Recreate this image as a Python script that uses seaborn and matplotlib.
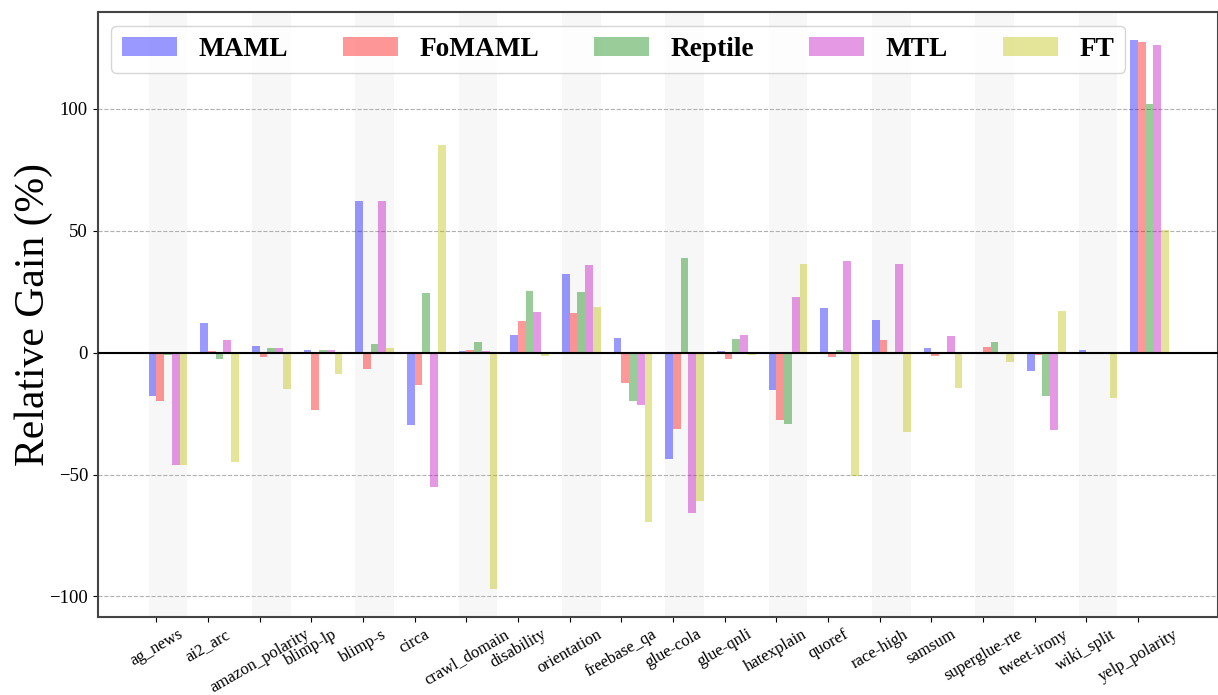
import numpy as np
import pandas as pd
import matplotlib
matplotlib.use("Agg")
import matplotlib.pyplot as plt
import seaborn as sns

categories = ["ag_news", "ai2_arc", "amazon_polarity", "blimp-lp", "blimp-s", "circa",
              "crawl_domain", "disability", "orientation", "freebase_qa", "glue-cola",
              "glue-qnli", "hatexplain", "quoref", "race-high", "samsum", "superglue-rte",
              "tweet-irony", "wiki_split", "yelp_polarity"]

methods = ["MAML", "FoMAML", "Reptile", "MTL", "FT"]

maml    = [-17.8, 12.2, 2.9, 0.9, 62.4, -29.6, 0.5, 7.1, 32.1, 6.2, -43.6, 0.5, -15.2, 18.5, 13.6, 1.8, -0.5, -7.4, 0.9, 128.3]
fomaml  = [-19.8, 0.5, -1.8, -23.4, -6.7, -13.2, 1.3, 13.2, 16.2, -12.3, -31.2, -2.5, -27.6, -1.8, 5.4, -1.3, 2.2, -0.9, 0.0, 127.4]
reptile = [-0.9, -2.5, 2.0, 0.9, 3.4, 24.3, 4.2, 25.4, 24.7, -19.8, 39.0, 5.8, -29.2, 0.9, -0.5, 0.0, 4.5, -17.8, -0.5, 102.0]
mtl     = [-45.9, 5.4, 2.0, 0.9, 62.4, -55.0, 0.5, 16.5, 35.8, -21.4, -65.7, 7.1, 22.7, 37.7, 36.5, 6.7, 0.0, -31.6, 0.0, 126.1]
ft      = [-45.9, -44.8, -14.9, -8.7, 1.8, 85.3, -97.1, -1.3, 18.9, -69.3, -60.8, -0.9, 36.5, -50.8, -32.5, -14.5, -3.8, 17.2, -18.5, 50.5]

series = [maml, fomaml, reptile, mtl, ft]
colors = ["blue", "red", "green", "m", "y"]

sns.set_style("ticks")
plt.rcParams["font.family"] = ["Liberation Serif", "DejaVu Serif"]
plt.rcParams["text.color"] = "black"
plt.rcParams["axes.labelcolor"] = "black"
plt.rcParams["xtick.color"] = "black"
plt.rcParams["ytick.color"] = "black"
plt.rcParams["xtick.major.size"] = 3.5
plt.rcParams["ytick.major.size"] = 3.5

fig = plt.figure(figsize=(12.18, 6.95), dpi=100)
ax = fig.add_axes([97.7 / 1218, 1 - 616.6 / 695, (1217.5 - 97.7) / 1218, (616.6 - 12) / 695])

pos = np.arange(len(categories))
w = 0.15

# alternating background bands
for i in range(0, len(categories), 2):
    ax.axvspan(i - w, i + 4 * w, color="#f7f7f7", zorder=0, lw=0)

for k, (name, vals, c) in enumerate(zip(methods, series, colors)):
    df = pd.DataFrame({"x": pos + (k - 0.5) * w, "y": vals})
    sns.barplot(data=df, x="x", y="y", native_scale=True, width=w, color=c,
                alpha=0.4, saturation=1, errorbar=None, label=name, ax=ax,
                zorder=2, linewidth=0)

ax.axhline(0, color="black", lw=1.5, zorder=3)
ax.yaxis.grid(True, ls="--", color="#b0b0b0", lw=0.8, zorder=1)
ax.set_axisbelow(True)

ax.set_xticks(pos)
ax.set_xticklabels(categories, rotation=30, ha="center", fontsize=12)
ax.set_yticks([-100, -50, 0, 50, 100])
ax.tick_params(axis="y", labelsize=13.5)
ax.set_xlim(-1.134, 20.54)
ax.set_ylim(-108.3, 139.8)
ax.set_xlabel("")
ax.set_ylabel("Relative Gain (%)", fontsize=30)
ax.yaxis.set_label_coords(-0.040, 0.5)

for s in ax.spines.values():
    s.set_color("#444444")
    s.set_linewidth(1.5)

handles = [ax.containers[i] for i in range(len(methods))]
ax.legend(handles, methods, loc="upper left", ncol=5,
          prop={"family": "Liberation Serif", "weight": "bold", "size": 19.7})

fig.savefig("out.png", dpi=100)
